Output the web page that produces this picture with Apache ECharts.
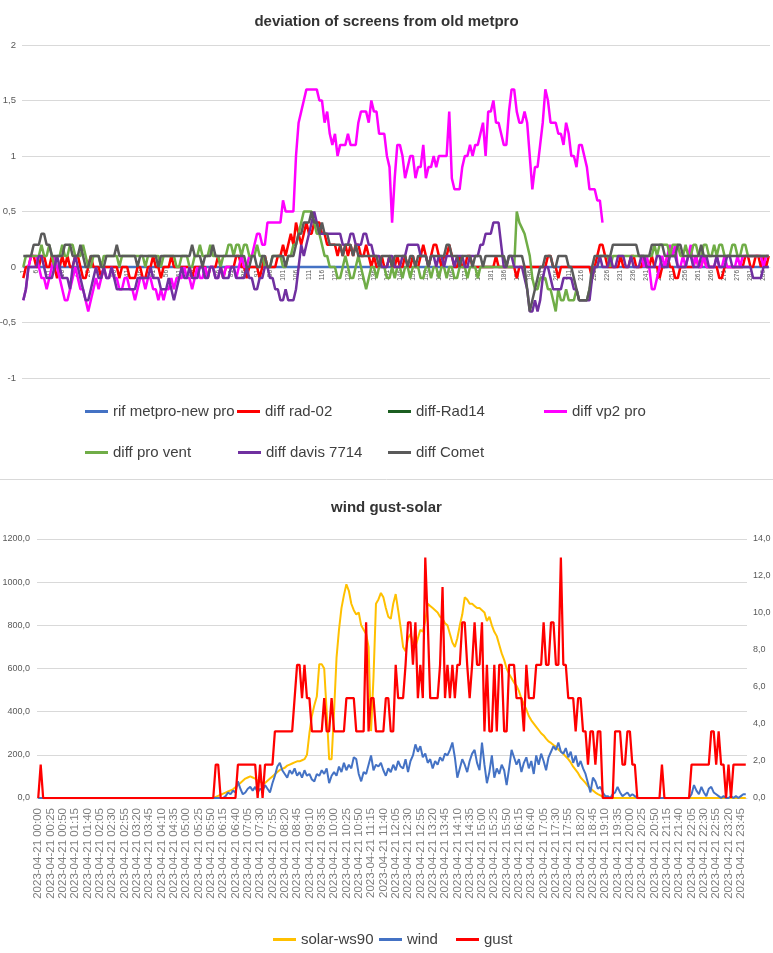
<!DOCTYPE html>
<html><head><meta charset="utf-8">
<script src="https://cdn.jsdelivr.net/npm/echarts/dist/echarts.min.js"></script>
<style>html,body{margin:0;padding:0;background:#fff}#c{width:773px;height:953px}</style>
</head><body><div id="c"></div>
<script>
// ---------- Chart 1: deviation of screens from old metpro ----------
const topCategories = [];
for (let i = 1; i <= 288; i++) topCategories.push(String(i));

const rifMetpro = [
0,0,0,0,0,0,0,0,0,0,0,0,0,0,0,0,0,0,0,0,
0,0,0,0,0,0,0,0,0,0,0,0,0,0,0,0,0,0,0,0,
0,0,0,0,0,0,0,0,0,0,0,0,0,0,0,0,0,0,0,0,
0,0,0,0,0,0,0,0,0,0,0,0,0,0,0,0,0,0,0,0,
0,0,0,0,0,0,0,0,0,0,0,0,0,0,0,0,0,0,0,0,
0,0,0,0,0,0,0,0,0,0,0,0,0,0,0,0,0,0,0,0,
0,0,0,0,0,0,0,0,0,0,0,0,0,0,0,0,0,0,0,0,
0,0,0,0,0,0,0,0,0,0,0,0,0,0,0,0,0,0,0,0,
0,0,0,0,0,0,0,0,0,0,0,0,0,0,0,0,0,0,0,0,
0,0,0,0,0,0,0,0,0,0,0,0,0,0,0,0,0,0,0,0,
0,0,0,0,0,0,0,0,0,0,0,0,0,0,0,0,0,0,0,0,
0,0,0,0,0,0,0,0,0,0,0,0,0,0,0,0,0,0,0,0,
0,0,0,0,0,0,0,0,0,0,0,0,0,0,0,0,0,0,0,0,
0,0,0,0,0,0,0,0,0,0,0,0,0,0,0,0,0,0,0,0,
0,0,0,0,0,0,0,0];

const diffRad02 = [
-0.1,0,0,0.1,0.1,0,0,0.1,0.1,0,0,0.1,0,-0.1,0,0.1,0,0.1,0,0,
0.1,0.1,0,-0.1,-0.1,0,0.1,0,0,0,-0.1,0,0,0,0,0,0,-0.1,0,0,
0,-0.1,-0.1,-0.1,0,0,-0.1,-0.1,0,0,0.1,0,0,-0.1,0,0,0,0.1,0,0,
0,0,0,0,0,-0.1,0,0,0,0,0,-0.1,0,0,0,0.1,0,-0.1,0,0,
0,0,0.1,0.1,0,0,-0.1,0,0,0,0,-0.1,0,0.1,0,0,0,0,0.1,0.1,
0.2,0.1,0.2,0.3,0.2,0.4,0.3,0.2,0.3,0.4,0.3,0.3,0.4,0.4,0.4,0.3,0.3,0.2,0.2,0.2,
0.2,0.1,0.2,0.1,0.2,0.1,0.2,0.1,0.2,0.2,0.1,0.1,0.2,0.1,0,0.1,0,0,0.1,0,
0,0.1,0,0,0.1,0,0,0.1,0,0,0.1,0,0,0.1,0.2,0.1,0,0.1,0.2,0.2,
0.1,0,0.1,0.1,0.2,0.1,0,0,0.1,0,0,0.1,0.1,0,0,0,0,0,0,0,
0,0,0.1,0,0,0,0,0,0,0,-0.1,0,0,0,0,0,0,0,0,0,
0,0,0.1,0.1,0,0,-0.1,0,0,0,0,0,0,0,0,0,0,0,0,-0.1,
0,0.1,0.2,0.2,0.1,0,0,0,0,0,0.1,0,0,0,0.1,0.1,0,0,0,0.1,
0,0,0.1,0,0,-0.1,0,0,0.1,0,0,-0.1,-0.1,0,0,0,0,0,0,0.1,
0,0,0.1,0,0,0,0,0,-0.1,-0.1,0,0,0,0,0,0,0,0,0.1,0.1,
0,0,0.1,0.1,0,0.1,0,0.1];

const diffRad14 = [];

const diffVp2 = [
-0.3,-0.2,0,0.1,0.1,0.1,0,-0.1,-0.1,-0.2,-0.1,0,0.1,0,-0.1,-0.2,-0.3,-0.3,-0.2,-0.1,
0,-0.1,-0.2,-0.2,-0.3,-0.4,-0.3,-0.2,-0.1,-0.2,-0.1,0,-0.1,-0.1,0,-0.1,-0.1,-0.2,-0.2,-0.1,
-0.1,-0.2,-0.2,-0.3,-0.2,-0.1,-0.1,-0.2,-0.1,-0.1,-0.2,-0.2,-0.3,-0.2,-0.3,-0.2,-0.2,-0.1,-0.2,-0.1,
-0.1,-0.1,0,-0.1,-0.1,-0.2,-0.1,0,-0.1,-0.1,0,-0.1,0,0,-0.1,-0.1,0,-0.1,0,0,
0,0,-0.1,0,0.1,0,0,0.1,0.1,0.2,0.3,0.3,0.2,0.2,0.4,0.4,0.4,0.4,0.4,0.4,
0.6,0.5,0.5,0.5,0.5,1.0,1.3,1.4,1.5,1.6,1.6,1.6,1.6,1.6,1.5,1.5,1.3,1.4,1.2,1.1,
1.2,1.0,1.1,1.1,1.1,1.2,1.1,1.1,1.1,1.3,1.4,1.4,1.4,1.3,1.5,1.4,1.4,1.2,1.2,1.2,
1.0,0.9,0.4,0.8,1.1,1.1,1.0,0.8,0.9,1.0,1.0,0.8,0.9,0.9,1.1,0.8,0.9,0.9,1.0,0.9,
1.0,1.0,1.0,1.0,1.4,0.8,0.7,0.7,0.7,0.9,1.0,1.0,1.1,1.0,1.1,1.1,1.2,1.3,1.0,1.4,
1.4,1.5,1.3,1.3,1.2,1.1,1.1,1.4,1.6,1.6,1.4,1.3,1.3,1.4,1.3,1.0,0.7,0.9,0.9,1.1,
1.3,1.6,1.5,1.3,1.3,1.3,1.2,1.2,1.1,1.3,1.2,1.0,1.0,0.9,1.1,1.1,1.0,0.9,0.7,0.7,
0.7,0.6,0.6,0.4,null,null,null,null,null,null,null,null,null,null,null,null,null,0.1,0.1,0,
0.1,0,-0.2,-0.2,-0.1,0,0.1,0,0.1,0.2,0.1,0.2,0,0,0.1,0,0.1,0.2,0,0.1,
0,0,0.1,0,0,0,0,0.1,0,0,0.1,0,0,0,0,0.1,0,0.1,0.1,0.1,
0.1,0.1,0.1,0.1,0.1,0,0.1,0.1];

const diffProVent = [
0,0.1,0.1,0.1,0.1,0.1,0.1,0.2,0.1,0.1,0.2,0.1,0,0.1,0.1,0.2,0.1,0.1,0.2,0.2,
0.1,0.1,0.1,0.2,0.1,0,0,0.1,0.1,0.1,0,0.1,0.1,0.1,0.1,0.1,0.1,0,0.1,0.1,
0.1,0.1,0.1,0.1,0.1,0.1,0.1,0,0.1,0.1,0.1,0.1,0.1,0,0.1,0.1,0.1,0.1,0.1,0,
0,0.1,0.1,0.1,0,0,0.1,0.1,0.2,0.1,0.1,0.1,0.2,0.1,0.1,0.1,0,0.1,0.1,0.2,
0.2,0.1,0.2,0.2,0.1,0.2,0.2,0.1,0.1,0.1,0.2,0.1,0.1,0,0,0,0.1,0.1,0.1,0.1,
0,0,0.1,0.1,0.2,0.2,0.3,0.4,0.5,0.5,0.5,0.5,0.4,0.3,0.3,0.2,0.1,0.1,0,0,
0,-0.1,-0.1,0,0.1,0,-0.1,-0.1,0,0.1,0,-0.1,-0.2,-0.1,0,0,-0.1,0,0,0,
-0.1,-0.1,0,-0.1,0,0,-0.1,0,0,-0.1,0,0,0,-0.1,-0.1,0,0,-0.1,0,0,
-0.1,0,0,-0.1,0,0,-0.1,-0.1,0,0,0,-0.1,0,0,0,-0.1,0,0,0,0,
0,0,0,0,0,0,0,0,0,0,0.5,0.4,0.35,0.3,0.2,0.1,-0.1,-0.2,-0.2,-0.1,
-0.1,-0.1,-0.2,-0.2,-0.3,-0.4,-0.2,-0.3,-0.3,-0.2,-0.3,-0.3,-0.3,-0.2,-0.3,-0.3,-0.3,-0.3,-0.2,-0.1,
0,0,0.1,0.1,0.1,0.1,0,0.1,0.1,0.1,0.1,0.1,0.1,0.1,0.1,0.1,0.1,0.1,0.1,0.1,
0.1,0.1,0.1,0.2,0.1,0.2,0.2,0.2,0.2,0.1,0.2,0.2,0.2,0.1,0.1,0.2,0.1,0.1,0.2,0.2,
0.1,0.1,0.2,0.2,0.1,0.1,0.2,0.1,0.2,0.2,0.1,0.1,0.1,0.2,0.2,0.1,0.1,0.2,0.2,0.1,
0.1,0.1,0.1,0.1,0.1,0.1,0.1,0.1];

const diffDavis7714 = [
-0.3,-0.2,0,0,0,0,0.1,0.1,0,-0.1,-0.1,-0.1,0,0.1,0,-0.1,-0.1,-0.1,-0.2,0,
0.1,0,-0.1,-0.2,-0.3,-0.3,-0.2,-0.1,0,-0.1,-0.1,0,-0.1,-0.1,0,-0.1,-0.2,-0.2,-0.2,-0.2,
-0.2,-0.2,-0.2,-0.2,-0.1,-0.1,-0.1,-0.1,-0.1,0,-0.1,-0.1,-0.1,-0.2,-0.2,-0.2,-0.1,-0.2,-0.3,-0.2,
-0.1,0,-0.1,-0.1,0,-0.1,-0.1,-0.1,0,0,-0.1,-0.1,0,0,-0.1,-0.1,0,-0.1,-0.1,-0.1,
0,0,-0.1,-0.1,-0.1,-0.1,0,-0.1,-0.1,-0.2,-0.2,-0.1,-0.1,0,0,-0.1,-0.1,-0.2,-0.2,-0.3,
-0.3,-0.2,-0.3,-0.3,-0.3,-0.2,0,0.2,0.1,0.2,0.3,0.4,0.5,0.4,0.3,0.3,0.3,0.3,0.3,0.3,
0.3,0.3,0.3,0.2,0.2,0.2,0.3,0.3,0.2,0.2,0.2,0.3,0.3,0.2,0.2,0.1,0.1,0.1,0,0,
0,0.1,0.1,0,0,0,0.1,0.1,0.2,0.2,0.2,0.2,0.2,0.1,0.1,0.1,0,0.1,0.1,0,
0.1,0.1,0,0.1,0.1,0.1,0,0.1,0.1,0.1,0,0,0.1,0.1,0.1,0.1,0.2,0.2,0.3,0.3,
0.3,0.4,0.4,0.4,0.2,0,0,0.1,0.1,0,0,0,0,-0.1,-0.2,-0.4,-0.4,-0.3,-0.4,-0.3,
-0.1,0,0,-0.1,-0.2,-0.2,-0.2,-0.2,-0.1,-0.1,-0.1,-0.1,-0.2,-0.2,-0.3,-0.3,-0.3,-0.3,-0.3,-0.1,
0,0,0.1,0,0,0,0.1,0,0,0.1,0.1,0.1,0,0,0.1,0,0,0,0.1,0.1,
0,0,0,0,0.1,0.1,0,0,0,0.1,0.1,0.1,0,0,0,0,0.1,0.1,0,0,
0,0.1,0.1,0.1,0,0,0,0.1,0,0,0,0.1,0.1,0,0,0,0,0,0,0,
0,-0.1,-0.1,-0.1,-0.1,0,0,0];

const diffComet = [
0.1,0.1,0.1,0.1,0.2,0.2,0.2,0.3,0.3,0.2,0.2,0.1,0.1,0.1,0.1,0.1,0.2,0.2,0.2,0.1,
0.1,0.1,0.2,0.1,0,0,0.1,0.1,0.1,0.1,0,0,0.1,0.1,0.1,0.1,0.2,0.1,0.1,0.1,
0.1,0.1,0.1,0.1,0,0.1,0.1,0.1,0.1,0.1,0.1,0.1,0,0.1,0.1,0.1,0.1,0.1,0.1,0.1,
0.1,0.1,0.1,0.1,0.1,0.2,0.1,0.1,0.1,0,0.1,0.1,0.1,0.2,0.1,0.1,0.1,0.1,0.1,0.1,
0.1,0.1,0.1,0.1,0.1,0.1,0,0,0.1,0.1,0,0,0.1,0.1,0,0,0.1,0.1,0.1,0.1,
0.1,0,0.1,0.1,0.1,0.2,0.3,0.3,0.4,0.4,0.4,0.5,0.4,0.4,0.3,0.4,0.3,0.3,0.2,0.2,
0.2,0.2,0.2,0.1,0.2,0.2,0.2,0.1,0.2,0.1,0.1,0.1,0.1,0.1,0.1,0.1,0.1,0,0.1,0.1,
0.1,0.1,0,0.1,0.1,0.1,0.1,0.1,0,0.1,0.1,0,0.1,0.1,0.1,0.1,0,0.1,0.1,0.1,
0.1,0.1,0.1,0.2,0.2,0.1,0.1,0.1,0,0.1,0.1,0.1,0.1,0,0.1,0.1,0.1,0,0.1,0.1,
0.1,0.1,0.1,0.1,0.1,0.1,0,0.1,0.1,0.1,0.1,0.1,0.1,0,-0.2,-0.4,-0.3,-0.2,-0.1,0,
0,0.1,0.1,0.1,0,0,0.1,0.1,0.1,0.1,0,0,-0.1,-0.2,-0.3,-0.3,-0.3,-0.3,-0.2,0,
0.1,0.1,0.1,0.1,0.1,0.1,0.1,0.2,0.2,0.2,0.2,0.2,0.2,0.2,0.2,0.2,0.2,0.1,0.1,0.1,
0.1,0.1,0.2,0.2,0.2,0.2,0.2,0.1,0.1,0.1,0.1,0.1,0.2,0.2,0.1,0.1,0.1,0.1,0.1,0.1,
0.1,0.2,0.1,0.1,0.1,0.1,0.1,0.1,0.1,0.1,0.1,0.1,0.1,0.1,0.1,0.1,0.1,0.1,0.1,0.1,
0.1,0.1,0.1,0.1,0.1,0.1,0.1,0.1];

const topYTicks = { min: -1, max: 2, step: 0.5 };

// ---------- Chart 2: wind gust-solar ----------
const timeCategories = [];
for (let m = 0; m < 24 * 60; m += 5) {
  const hh = String(Math.floor(m / 60)).padStart(2, '0');
  const mm = String(m % 60).padStart(2, '0');
  timeCategories.push('2023-04-21 ' + hh + ':' + mm);
}

const solarWs90 = [
0,0,0,0,0,0,0,0,0,0,0,0,0,0,0,0,0,0,0,0,
0,0,0,0,0,0,0,0,0,0,0,0,0,0,0,0,0,0,0,0,
0,0,0,0,0,0,0,0,0,0,0,0,0,0,0,0,0,0,0,0,
0,0,0,0,0,0,0,0,0,0,0,0,5,10,15,20,25,30,35,40,
50,60,70,80,90,95,100,95,90,80,75,70,70,80,90,100,110,120,130,135,
140,150,155,160,165,170,170,175,180,200,300,380,430,470,620,620,600,400,180,180,
400,650,780,880,940,990,960,900,870,850,860,800,780,760,700,310,560,900,920,950,
930,880,840,830,900,945,870,790,700,680,740,760,720,700,740,780,770,820,900,890,
880,870,860,840,830,810,800,760,720,700,740,800,850,930,920,900,900,890,880,880,
870,860,820,840,800,770,750,710,670,640,600,575,555,535,520,495,460,435,410,380,
360,345,330,315,300,290,275,262,255,245,238,225,215,205,192,180,165,145,130,115,
95,83,70,55,45,35,25,18,12,6,2,0,0,0,0,0,0,0,0,0,
0,0,0,0,0,0,0,0,0,0,0,0,0,0,0,0,0,0,0,0,
0,0,0,0,0,0,0,0,0,0,0,0,0,0,0,0,0,0,0,0,
0,0,0,0,0,0,0,0];

const wind = [
0,0,0,0,0,0,0,0,0,0,0,0,0,0,0,0,0,0,0,0,
0,0,0,0,0,0,0,0,0,0,0,0,0,0,0,0,0,0,0,0,
0,0,0,0,0,0,0,0,0,0,0,0,0,0,0,0,0,0,0,0,
0,0,0,0,0,0,0,0,0,0,0,0,0,0,0,0,0.1,0.3,0.2,0.4,
0.3,0.9,0.5,0.2,0.3,0.5,0.6,0.4,0.6,0.3,0.5,0.4,0.7,0.5,0.3,0.8,1.2,1.7,1.9,1.5,
1.3,1.1,1.5,1.3,1.6,1.2,1.4,1.1,1.5,1.2,1.3,1.0,0.9,1.3,1.2,1.5,1.3,1.6,0.8,1.2,
1.4,1.2,1.7,1.4,1.9,1.5,1.8,1.6,2.2,2.1,1.3,0.9,1.4,1.3,1.8,2.3,1.5,1.8,1.7,1.9,
1.5,1.2,1.6,1.4,1.8,1.5,2.0,1.7,1.6,2.1,1.4,2.0,2.3,2.9,2.5,2.8,2.2,2.4,1.9,2.1,
1.6,2.0,1.8,2.2,2.0,2.4,2.3,2.6,3.0,2.2,1.1,1.6,2.1,1.8,1.4,2.0,2.4,2.6,1.9,1.5,
3.0,1.8,0.8,1.4,2.3,1.1,1.6,1.3,1.8,1.5,0.7,1.6,2.6,2.2,1.8,2.1,1.4,1.9,2.2,1.6,
2.0,1.3,2.3,1.8,2.4,2.0,1.5,2.2,2.5,2.8,2.6,3.0,2.5,2.4,2.7,2.2,2.5,1.9,2.3,1.7,
2.0,1.6,1.3,0.8,0.3,1.1,0.9,0.5,0.6,0.3,0.1,0.1,0,0.2,0.3,0.6,0.3,0.1,0.2,0.3,
0.1,0.2,0.1,0,0,0,0,0,0,0,0,0,0,0,0,0,0,0,0,0,
0,0,0,0,0,0.2,0.7,0.4,0.2,0.6,0.3,0.1,0.5,0.6,0.3,0.2,0.1,0,0.1,0,
0,0.1,0,0.1,0,0.1,0.2,0.2];

const gust = [
0,1.8,0,0,0,0,0,0,0,0,0,0,0,0,0,0,0,0,0,0,
0,0,0,0,0,0,0,0,0,0,0,0,0,0,0,0,0,0,0,0,
0,0,0,0,0,0,0,0,0,0,0,0,0,0,0,0,0,0,0,0,
0,0,0,0,0,0,0,0,0,0,0,0,1.8,1.8,0,0,0,0,0,0,
0,1.8,1.8,1.8,1.8,1.8,1.8,1.8,1.8,0,1.8,0,1.8,1.8,1.8,1.8,3.6,3.6,3.6,3.6,
3.6,3.6,3.6,3.6,5.4,7.2,7.2,5.4,7.2,5.4,5.4,3.6,3.6,3.6,3.6,3.6,5.4,3.6,3.6,5.4,
3.6,3.6,3.6,3.6,3.6,5.4,5.4,5.4,5.4,3.6,3.6,3.6,3.6,9.5,3.6,5.4,5.4,3.6,3.6,3.6,
3.6,5.4,5.4,3.6,3.6,7.2,5.4,5.4,5.4,7.2,9.5,9.5,7.2,9.5,5.4,7.2,5.4,13.0,9.5,5.4,
5.4,5.4,5.4,7.2,11.4,5.4,7.2,5.4,7.2,5.4,7.2,7.2,9.5,9.5,7.2,5.4,7.2,9.5,7.2,7.2,
9.5,3.6,7.2,3.6,3.6,7.2,3.6,7.2,7.2,3.6,3.6,7.2,7.2,7.2,5.4,5.4,5.4,3.6,7.2,5.4,
5.4,5.4,7.2,7.2,7.2,9.5,7.2,7.2,9.5,9.5,7.2,7.2,13.0,7.2,7.2,5.4,5.4,5.4,3.6,5.4,
5.4,3.6,3.6,1.8,3.6,3.6,1.8,3.6,3.6,0,0,0,0,0,3.6,3.6,3.6,1.8,1.8,3.6,
3.6,1.8,1.8,0,0,0,0,0,0,0,0,0,0,1.8,0,0,0,0,0,0,
0,0,0,0,0,1.8,1.8,1.8,1.8,1.8,1.8,1.8,1.8,3.6,3.6,1.8,3.6,1.8,1.8,0,
1.8,0,1.8,1.8,1.8,1.8,1.8,1.8];

[['rifMetpro',rifMetpro],['diffRad02',diffRad02],['diffVp2',diffVp2],['diffProVent',diffProVent],
 ['diffDavis7714',diffDavis7714],['diffComet',diffComet],['solarWs90',solarWs90],['wind',wind],['gust',gust]]
 .forEach(function(p){ if (p[1].length !== 288) throw new Error(p[0] + ' length ' + p[1].length); });

// ---------- rendering ----------
const SANS = "'Liberation Sans',Arial,sans-serif";
const comma = function (v, d) { return (d == null ? String(v) : v.toFixed(d)).replace('.', ','); };

function lineSeries(name, data, color, xi, yi, width) {
  return {
    name: name, type: 'line', data: data, xAxisIndex: xi, yAxisIndex: yi,
    symbol: 'none', showSymbol: false, connectNulls: false,
    lineStyle: { color: color, width: width }, itemStyle: { color: color },
    emphasis: { disabled: true }, animation: false
  };
}
function legendItem(name, left, top) {
  return {
    data: [name], left: left, top: top, orient: 'horizontal', padding: 0,
    icon: 'rect', itemWidth: 23, itemHeight: 3, selectedMode: false,
    textStyle: { fontFamily: SANS, fontSize: 15, color: '#404040' }
  };
}

const TOP_GRID_H = 333;
const chart = echarts.init(document.getElementById('c'), null, { renderer: 'canvas', width: 773, height: 953 });
chart.setOption({
  backgroundColor: '#ffffff',
  animation: false,
  textStyle: { fontFamily: SANS },
  title: [
    { text: 'deviation of screens from old metpro', left: 'center', top: 9,
      textStyle: { fontFamily: SANS, fontSize: 15, fontWeight: 'bold', color: '#333333' } },
    { text: 'wind gust-solar', left: 'center', top: 495,
      textStyle: { fontFamily: SANS, fontSize: 15, fontWeight: 'bold', color: '#333333' } }
  ],
  graphic: [{ type: 'line', shape: { x1: 0, y1: 479.5, x2: 773, y2: 479.5 }, style: { stroke: '#d9d9d9', lineWidth: 1 } }],
  legend: [
    legendItem('rif metpro-new pro', 85, 404),
    legendItem('diff rad-02', 237, 404),
    legendItem('diff-Rad14', 388, 404),
    legendItem('diff vp2 pro', 544, 404),
    legendItem('diff pro vent', 85, 445),
    legendItem('diff davis 7714', 238, 445),
    legendItem('diff Comet', 388, 445),
    legendItem('solar-ws90', 273, 932),
    legendItem('wind', 379, 932),
    legendItem('gust', 456, 932)
  ],
  grid: [
    { left: 22, right: 3, top: 45, height: TOP_GRID_H, containLabel: false, outerBoundsMode: 'none' },
    { left: 37, right: 26, top: 539, height: 259, containLabel: false, outerBoundsMode: 'none' }
  ],
  xAxis: [
    { type: 'category', gridIndex: 0, data: topCategories, boundaryGap: true,
      // axis crosses the value axis at 0 (one third of the way up from -1)
      offset: -TOP_GRID_H * (0 - topYTicks.min) / (topYTicks.max - topYTicks.min),
      axisLine: { onZero: false, lineStyle: { color: '#d9d9d9' } }, axisTick: { show: false },
      axisLabel: { interval: 4, rotate: 90, fontSize: 6.5, color: '#595959', margin: 3, fontFamily: SANS },
      splitLine: { show: false } },
    { type: 'category', gridIndex: 1, data: timeCategories, boundaryGap: true,
      axisLine: { lineStyle: { color: '#d9d9d9' } }, axisTick: { show: false },
      axisLabel: { interval: 4, rotate: 90, fontSize: 11.5, color: '#7f7f7f', margin: 10, fontFamily: SANS },
      splitLine: { show: false } }
  ],
  yAxis: [
    { type: 'value', gridIndex: 0, min: topYTicks.min, max: topYTicks.max, interval: topYTicks.step,
      axisLine: { show: false }, axisTick: { show: false },
      axisLabel: { fontSize: 9.5, color: '#595959', margin: 6, formatter: function (v) { return comma(v); } },
      splitLine: { lineStyle: { color: '#d9d9d9' } } },
    { type: 'value', gridIndex: 1, min: 0, max: 1200, interval: 200, position: 'left',
      axisLine: { show: false }, axisTick: { show: false },
      axisLabel: { fontSize: 9, color: '#595959', margin: 7, formatter: function (v) { return comma(v, 1); } },
      splitLine: { lineStyle: { color: '#d9d9d9' } } },
    { type: 'value', gridIndex: 1, min: 0, max: 14, interval: 2, position: 'right',
      axisLine: { show: false }, axisTick: { show: false },
      axisLabel: { fontSize: 9, color: '#595959', margin: 6, formatter: function (v) { return comma(v, 1); } },
      splitLine: { show: false } }
  ],
  series: [
    lineSeries('rif metpro-new pro', rifMetpro, '#4472C4', 0, 0, 2.5),
    lineSeries('diff rad-02', diffRad02, '#FF0000', 0, 0, 2.5),
    lineSeries('diff-Rad14', diffRad14, '#1B5E20', 0, 0, 2.5),
    lineSeries('diff vp2 pro', diffVp2, '#FF00FF', 0, 0, 2.5),
    lineSeries('diff pro vent', diffProVent, '#70AD47', 0, 0, 2.5),
    lineSeries('diff davis 7714', diffDavis7714, '#7030A0', 0, 0, 2.5),
    lineSeries('diff Comet', diffComet, '#5A5A5A', 0, 0, 2.5),
    lineSeries('solar-ws90', solarWs90, '#FFC000', 1, 1, 2),
    lineSeries('wind', wind, '#4472C4', 1, 2, 2),
    lineSeries('gust', gust, '#FF0000', 1, 2, 2.25)
  ]
});
</script>
</body></html>
